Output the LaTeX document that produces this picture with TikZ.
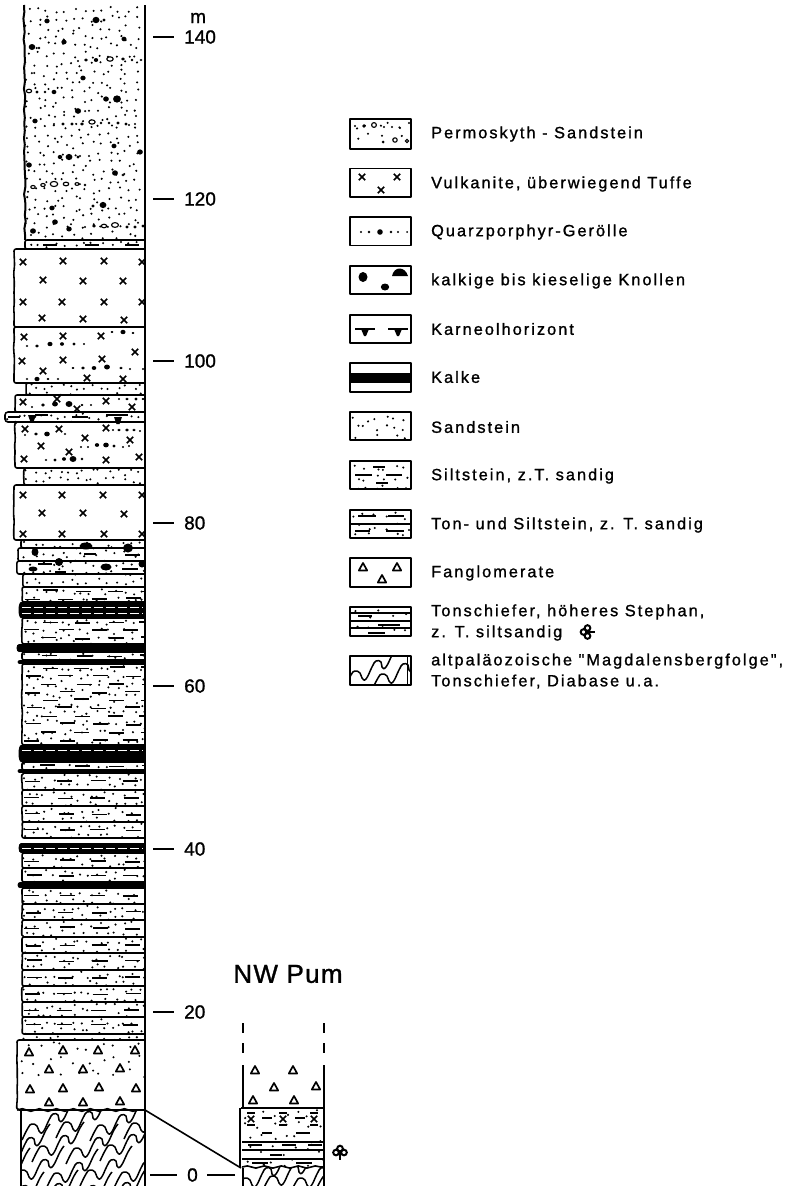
\documentclass[tikz,border=0pt]{standalone}
\usepackage{fontspec}
\setmainfont{Liberation Sans}
\newfontfamily\legfont[LetterSpace=12.5,FakeBold=1.2]{Liberation Sans}
\newfontfamily\zahlfont[FakeBold=1.2]{Liberation Sans}
\newfontfamily\pumfont[LetterSpace=5,FakeBold=1.2]{Liberation Sans}
\usetikzlibrary{decorations.pathmorphing}

\tikzset{
  rim/.style={line width=1.6pt, line join=round},
  wand/.style={line width=2pt},
  tick/.style={line width=1.4pt},
  strich/.style={line width=1.5pt},
  kalk/.style={line width=#1},
  kalk/.default=6pt,
  legtext/.style={anchor=west, font=\legfont\fontsize{16.3}{21}\selectfont, align=left, inner sep=0pt},
  zahl/.style={anchor=west, font=\zahlfont\fontsize{19}{22}\selectfont, inner sep=0pt},
  kiste/.style={line width=1.6pt, line join=round},
}

% Sand: Punkte auf einem verrauschten Raster
\newcommand{\sandfill}[5]{
  \begin{scope}
    \clip (#1,#2) rectangle (#3,#4);
    \pgfmathsetmacro\ya{#2+#5*.55}
    \pgfmathsetmacro\yb{#2+#5*1.55}
    \pgfmathsetmacro\xa{#1+#5*.5}
    \pgfmathsetmacro\xb{#1+#5*1.5}
    \foreach \py in {\ya,\yb,...,#4}
      \foreach \px in {\xa,\xb,...,#3}
        \fill ({\px+#5*.38*rand},{\py+#5*.38*rand}) circle[radius=1.15];
  \end{scope}
}
% Silt: kurze Striche, dazu Sandpunkte
\newcommand{\siltfill}[4]{
  \sandfill{#1}{#2}{145}{#3}{9}
  \begin{scope}
    \clip (#1,#2) rectangle (145,#3);
    \pgfmathsetmacro\ya{#2+#4*.5}
    \pgfmathsetmacro\yb{#2+#4*1.5}
    \foreach \py [count=\ii] in {\ya,\yb,...,#3} {
      \pgfmathsetmacro\off{(#4<12)*mod(\ii,2)*16.5}
      \foreach \px in {33,66,99,132}
        \draw[strich] ({\px+\off-7.5+2*rand},{\py+rand}) -- ++(15,0);
    }
  \end{scope}
}
% Schicht, linke Kante etwas rauh
\newcommand{\schicht}[3]{
  \draw[rim, rounded corners=2pt] (145,#2) -- (#1,#2)
    decorate[decoration={random steps, segment length=6pt, amplitude=.5pt}] {-- (#1,#3)}
    -- (145,#3);
}
\newcommand{\kreuz}[2]{
  \draw[line width=1.7pt] (#1-3.2,#2-3.2) -- (#1+3.2,#2+3.2) (#1-3.2,#2+3.2) -- (#1+3.2,#2-3.2);
}
\newcommand{\dreieck}[2]{
  \draw[line width=1.7pt, fill=white, line join=round] (#1-4.2,#2+3.5) -- (#1,#2-4) -- (#1+4.2,#2+3.5) -- cycle;
}
\newcommand{\zick}[2]{
  \draw[line width=1.5pt] plot[smooth, tension=.8] coordinates {
    (#1,#2+42) (#1+6,#2+30) (#1+10,#2+26) (#1+15,#2+28) (#1+17,#2+33) (#1+21,#2+34) (#1+27,#2+22)
    (#1+31,#2+16) (#1+36,#2+17) (#1+37,#2+22) (#1+41,#2+22) (#1+48,#2+8) (#1+52,#2+2)};
}
% Pflanzenzeichen
\newcommand{\pflanze}[3]{
  \begin{scope}[shift={(#1,#2)}, rotate=#3]
    \draw[line width=2pt] (-4,-.5) circle[radius=2.8] (4,-.5) circle[radius=2.8] (0,-4.5) circle[radius=2.8];
    \draw[line width=2pt] (0,-1) -- (0,7);
  \end{scope}
}

\begin{document}
\begin{tikzpicture}[x=1pt, y=-1pt]
\useasboundingbox (0,0) rectangle (791,1186);
\pgfmathsetseed{11}

% Permoskyth-Sandstein
\sandfill{24}{5}{145}{240}{9}
\foreach \x/\y/\r in {47/21/2.4, 96/20/3.2, 104/20/1.5, 124/39/2.3, 32/47/3, 39/48/1.3, 64/42/2.4,
  78/61/1.1, 86/60/1.7, 96/60/2, 123/59/1.7, 132/60/1.3, 141/60/1.2, 83/78/2.4, 37/92/1.5, 45/92/1.3,
  54/92/2.2, 106/99/2.6, 117/99/3.6, 78/111/2.8, 35/121/2.4, 54/124/1.1, 63/124/1.6, 72/124/1.6,
  82/124/1.7, 101/123/1.3, 109/123/1.3, 118/123/1.6, 126/124/1.5, 135/124/1.1, 114/146/2.3, 140/152/2.6,
  60/157/2.1, 69/157/3.1, 78/157/1.5, 29/165/2.6, 115/173/2.7, 123/175/1.4, 85/185/1.3, 103/205/3.1,
  93/206/1.6, 52/208/2.4, 55/222/2.6, 33/231/2.7, 69/229/2.5, 85/227/1.1, 94/226/1.7, 127/227/1.6,
  135/227/1.6, 143/226/1.5}
  \fill (\x,\y) circle[x radius=\r*1.1, y radius=\r];
\foreach \x/\y/\r in {110/59/2.6, 29/91/2.1, 92/122/2.5, 33/187/1.8, 43/185/1.8, 54/184/3, 66/184/2.2,
  77/184/1.6, 104/226/2.1, 115/225/2.8}
  \draw[line width=1.1pt, fill=white] (\x,\y) circle[x radius=\r*1.25, y radius=\r*.85];
\draw[wand] (24,5) decorate[decoration={random steps, segment length=7pt, amplitude=.8pt}] {-- (25,240)};

% Sand und Silt darunter
\sandfill{25}{240}{145}{249}{9}
\foreach \x in {50,92,132} \draw[strich] (\x-7,245) -- (\x+7,245);
\schicht{25}{240}{249}

% Vulkanite
\schicht{14}{249}{327}
\foreach \x/\y in {23/262,63/261,104/261,142/262,43/280,83/281,123/281,23/302,62/302,104/302,142/302,42/318,83/319,124/320}
  {\kreuz{\x}{\y}}
\schicht{14}{327}{383}
\foreach \x/\y in {24/337,63/336,101/336,135/352,22/361,63/360,102/359,43/371,87/378,123/379}
  {\kreuz{\x}{\y}}
\foreach \x/\y/\r in {112/332/1.2,123/332/2.2,133/333/1.2,27/346/1.1,37/346/1.6,50/344/2.2,62/344/1.8,74/344/1.5,84/344/1,
  73/368/1.2,83/368/1.6,94/368/2,107/367/2.5,121/368/1.4,130/369/1,143/369/1,27/379/1.1,37/379/2.2,48/379/1.2,58/379/1.1}
  \fill (\x,\y) circle[x radius=\r*1.15, y radius=\r];
\sandfill{26}{383}{145}{395}{8}
\schicht{26}{383}{395}
\schicht{15}{395}{412}
\foreach \x/\y in {23/402,57/399,106/401,132/407,77/409} {\kreuz{\x}{\y}}
\foreach \x/\y/\r in {32/407/1,43/405/1.7,55/404/2.5,69/404/3,82/405/1.2,91/405/1,119/399/1,127/399/1.4,136/399/1.5,143/399/1.2}
  \fill (\x,\y) circle[x radius=\r*1.15, y radius=\r];

% Karneolhorizont
\sandfill{6}{412}{145}{422}{8}
\foreach \a/\b/\y in {8/20/417,35/48/415,72/88/417,106/128/415}
  \draw[strich] (\a,\y) -- (\b,\y);
\foreach \x/\y in {32/415,118/417} \fill (\x-4,\y) -- (\x+4,\y) -- (\x+1.5,\y+7) -- (\x-1.5,\y+7) -- cycle;
\draw[rim, rounded corners=3pt] (145,412) -- (5,412) -- (5,422) -- (145,422);

\schicht{15}{422}{468}
\foreach \x/\y in {25/429,59/429,106/428,130/440,85/438,41/446,69/452,24/459,106/460,139/457} {\kreuz{\x}{\y}}
\foreach \x/\y/\r in {25/435/1,36/434/1.6,47/434/2.4,65/434/1.1,113/430/1,119/430/1.4,127/430/1.6,134/430/1.4,140/431/1,
  81/447/1,88/447/1,97/445/1.9,106/445/2.4,114/446/1.5,123/447/1,129/446/1,46/460/1.1,55/460/1.5,64/459/1.8,73/459/3,82/459/1.3}
  \fill (\x,\y) circle[x radius=\r*1.15, y radius=\r];
\sandfill{24}{468}{145}{485}{8}
\schicht{24}{468}{485}
\schicht{14}{485}{540}
\foreach \x/\y in {23/495,62/495,103/495,142/495,42/513,83/513,124/514,23/534,62/534,104/534,142/534}
  {\kreuz{\x}{\y}}

% Knollen
\sandfill{20}{540}{145}{587}{9}
\foreach \x/\y/\a/\b in {86/546/6.5/3.5, 128/548/5/4.5, 35/552/3.5/4, 59/562/4/4, 33/569/4.5/2.5, 106/567/5.5/3.5, 142/564/3.5/3.5}
  \fill (\x,\y) circle[x radius=\a, y radius=\b];
\foreach \a/\b/\y in {84/96/554,125/140/555,38/52/564,122/138/569,55/66/572}
  \draw[strich] (\a,\y) -- (\b,\y);
\schicht{21}{540}{548}
\schicht{18}{548}{561}
\schicht{17}{561}{574}
\schicht{23}{574}{587}

% Silt mit Kalkbaenken
\foreach \ta/\tb/\st in {587/602/8,618/644/8,652/660/8,664/745/8,762/770/8,773/790/16,790/806/16,806/822/16,822/838/16,
  853/868/16,868/882/16,888/904/16,904/920/16,920/937/16,937/953/16,953/970/16,970/986/16,986/1002/16,1002/1017/16,1017/1034/16}
{
  \siltfill{22}{\ta}{\tb}{\st}
  \schicht{22}{\ta}{\tb}
}
\sandfill{22}{1034}{145}{1040}{8}
\foreach \yy/\lw/\xl in {610/16/21, 648/8/19, 662/4/20, 753.5/17/21, 771/4/20, 848/10/21, 885/6/20} {
  \draw[kalk=\lw pt] (\xl,\yy) -- (145,\yy);
  \fill (\xl,\yy) circle[x radius=2.5, y radius=\lw/2];
}
\foreach \yy in {607.5, 613, 750, 848}
  \draw[white, line width=1pt, dash pattern=on 9pt off 3pt] (22,\yy) -- (143,\yy);

% Fanglomerate
\sandfill{18}{1040}{145}{1078}{13}
\foreach \x/\y in {29/1052,63/1050,98/1050,135/1050,49/1069,83/1069,120/1068,30/1089,63/1088,99/1087,136/1088,49/1102,83/1102,120/1101}
  {\dreieck{\x}{\y}}
\schicht{17}{1040}{1110}

% Magdalensbergfolge
\begin{scope}
  \clip (21,1110) rectangle (145,1186);
  \foreach \x/\y in {22/1098,56/1096,90/1099,124/1097,-2/1122,32/1120,66/1122,100/1119,-22/1146,12/1144,46/1147,80/1144,114/1146,-8/1170,26/1168,60/1170,94/1167,128/1169}
    {\zick{\x}{\y}}
\end{scope}
\draw[wand] (21,1110) -- (21,1186);
\draw[rim, decorate, decoration={snake, segment length=17pt, amplitude=1.3pt}] (17,1110) -- (145,1110);
\draw[wand] (145,5) -- (145,1186);

% Hoehenmassstab
\node[zahl] (meter) at (190,18) {m};
\foreach \lbl/\yy in {140/37,120/199,100/361,80/523,60/686,40/849,20/1012} {
  \coordinate (t\lbl) at (153,\yy);
  \draw[tick] (t\lbl) -- ++(21,0);
  \node[zahl] (n\lbl) at (184,\yy) {\lbl};
}
\node[zahl] (n0) at (187,1175) {0};
\coordinate (t0) at (150,1175);
\coordinate (u0) at (235,1175);
\draw[tick] (t0) -- ++(27,0);
\draw[tick] (u0) -- ++(-28,0);

% NW Pum
\node[font=\pumfont\fontsize{26}{28}\selectfont, inner sep=0pt, anchor=center] (pum) at (288,974) {NW Pum};
\draw[wand, dash pattern=on 10pt off 10pt] (243,1023) -- (243,1063);
\draw[wand, dash pattern=on 10pt off 10pt] (324,1023) -- (324,1063);
\foreach \x/\y in {255/1070,293/1070,274/1087,316/1086,253/1100,294/1100} {\dreieck{\x}{\y}}
\sandfill{242}{1108}{324}{1166}{12}
\foreach \a/\b/\y in {262/272/1118,295/305/1118,262/272/1133,296/310/1133,248/262/1145,282/296/1145,308/322/1145,270/282/1155,252/268/1163,296/312/1163}
  \draw[strich] (\a,\y) -- (\b,\y);
\foreach \x in {251,283,314} {
  \kreuz{\x}{1119}
  \draw[line width=1.3pt] (\x-4,1113) -- (\x+4,1113) (\x-4,1125) -- (\x+4,1125);
}
\draw[rim] (241,1108) -- (324,1108) (242,1142) -- (324,1142) (242,1150) -- (324,1150) (242,1159) -- (324,1159);
\begin{scope}
  \clip (243,1167) rectangle (323,1186);
  \foreach \x/\y in {235/1152,262/1150,290/1152,315/1150} {\zick{\x}{\y}}
\end{scope}
\draw[rim, decorate, decoration={snake, segment length=17pt, amplitude=1.1pt}] (242,1167) -- (324,1167);
\draw[wand] (243,1065) -- (243,1108);
\draw[wand] (240,1108) -- (240,1168);
\draw[wand] (243,1168) -- (243,1186);
\draw[wand] (323.5,1065) -- (323.5,1186);
\pflanze{340}{1153}{0}

% Verbindung der Profile
\coordinate (gA) at (145,1110);
\coordinate (gB) at (241,1168);
\draw[rim] (gA) -- (gB);

% Legende
\node[legtext] (lPerm) at (431,134) {Permoskyth - Sandstein};
\node[legtext] (lVulk) at (431,184) {Vulkanite, überwiegend Tuffe};
\node[legtext] (lQuarz) at (431,232) {Quarzporphyr-Gerölle};
\node[legtext] (lKnoll) at (431,281) {kalkige bis kieselige Knollen};
\node[legtext] (lKarn) at (431,329) {Karneolhorizont};
\node[legtext] (lKalk) at (431,377) {Kalke};
\node[legtext] (lSand) at (431,427) {Sandstein};
\node[legtext] (lSilt) at (431,476) {Siltstein, z.T. sandig};
\node[legtext] (lTon) at (431,525) {Ton- und Siltstein, z. T. sandig};
\node[legtext] (lFang) at (431,573) {Fanglomerate};
\node[legtext] (lTsch) at (431,622.5) {Tonschiefer, höheres Stephan,\\z. T. siltsandig};
\node[legtext] (lAlt) at (431,671) {altpaläozoische "Magdalensbergfolge",\\Tonschiefer, Diabase u.a.};
\pflanze{588}{632}{90}

% Kaestchen
\sandfill{351}{120}{410}{148}{11}
\foreach \x/\y/\r in {355/126/1.2,364/126/1.9,384/127/1.2,392/127/1.2,400/128/1.2,409/123/1.2,383/142/1.5}
  \fill (\x,\y) circle[radius=\r];
\foreach \x/\y/\r in {374/125/2.4,395/140/2.2,407/141/1.6}
  \draw[line width=1.1pt, fill=white] (\x,\y) circle[radius=\r];
\foreach \x/\y in {362/177,397/177,381/190} {\kreuz{\x}{\y}}
\foreach \x/\r in {361/1.2,369/1.3,380/2.8,391/1.3,398/1.2,407/1} \fill (\x,232) circle[radius=\r];
\fill (363,277) circle[x radius=4.5, y radius=5];
\fill (385,287) circle[x radius=4.2, y radius=3.5];
\fill (392,276) .. controls (394,266) and (405,266) .. (408,276) -- cycle;
\foreach \x in {365,398} {
  \draw[line width=1.3pt] (\x-10,329) -- (\x+10,329);
  \fill (\x-4,329) -- (\x+4,329) -- (\x+1,336) -- (\x-1,336) -- cycle;
}
\fill (350,373) rectangle (411,383);
\sandfill{351}{413}{410}{439}{10}
\sandfill{351}{462}{410}{488}{10}
\foreach \a/\b/\y in {373/385/467,355/372/475,386/402/475,376/388/483} \draw[strich] (\a,\y) -- (\b,\y);
\sandfill{351}{511}{410}{537}{10}
\foreach \a/\b/\y in {358/376/516,388/404/516,355/370/531,386/404/531} \draw[strich] (\a,\y) -- (\b,\y);
\draw[strich] (350,524) -- (411,524);
\foreach \x/\y in {363/567,397/567,382/579} {\dreieck{\x}{\y}}
\sandfill{351}{608}{410}{635}{12}
\foreach \a/\b/\y in {358/372/616,378/400/625,368/385/633} \draw[strich] (\a,\y) -- (\b,\y);
\draw[strich] (350,613) -- (411,613) (350,621) -- (411,621) (350,628) -- (411,628);
\begin{scope}
  \clip (350,656) rectangle (411,685);
  \foreach \x/\y in {345/645,372/648} {\zick{\x}{\y}}
\end{scope}
\draw[line width=1pt] (407,657) -- (407,684);
\foreach \top/\bot in {119/149,168.5/197,217/245.5,266/294,315/343,363/392,412/440,461/489,510/538,558/587,607/636,656/685}
  \draw[kiste] (350,\top) rectangle (411,\bot);

\end{tikzpicture}
\end{document}
